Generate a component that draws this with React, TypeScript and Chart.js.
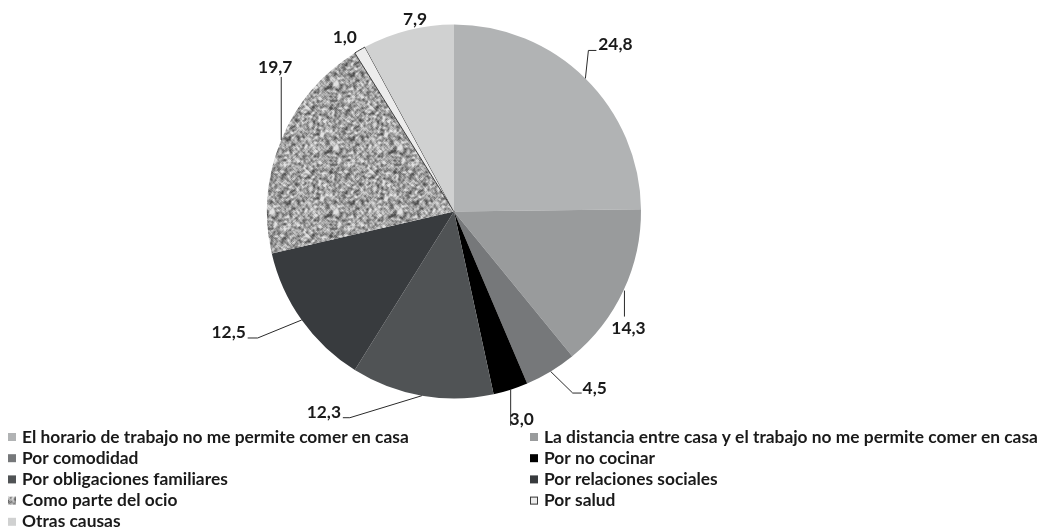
import { useEffect, useRef } from "react";
import { Chart, registerables } from "chart.js";

Chart.register(...registerables);

// ---- data ----
const categories: string[] = [
  "El horario de trabajo no me permite comer en casa",
  "La distancia entre casa y el trabajo no me permite comer en casa",
  "Por comodidad",
  "Por no cocinar",
  "Por obligaciones familiares",
  "Por relaciones sociales",
  "Como parte del ocio",
  "Por salud",
  "Otras causas",
];
const values: number[] = [24.8, 14.3, 4.5, 3.0, 12.3, 12.5, 19.7, 1.0, 7.9];

// ---- styles ----
const sliceColors: string[] = [
  "#b1b3b4",
  "#999b9c",
  "#76787a",
  "#000000",
  "#505355",
  "#383b3e",
  "TEXTURE",
  "#ececec",
  "#d0d1d1",
];
const sliceBorderWidths: number[] = [0, 0, 0, 0, 0, 0, 0, 1, 0];
const sliceBorderColor = "#3a3a3a";
const textColor = "#1a1a1a";
const fontFamily = "Lato, 'Noto Sans', sans-serif";

// label placement relative to each slice's outer mid-point (layout only)
const labelLayout: { text: [number, number]; leader: [number, number][] }[] = [
  { text: [30, -34], leader: [[0, 0], [3, -28], [11, -28]] },
  { text: [5, 38], leader: [[1, 0], [1, 26]] },
  { text: [44, 17], leader: [[0, 0], [22, 21.5], [31, 21.5]] },
  { text: [11, 30], leader: [[0, 0], [0, 36]] },
  { text: [-98, 17], leader: [[0, 0], [-72, 22], [-79, 22]] },
  { text: [-73, 12], leader: [[0, 0], [-44, 18], [-54, 18]] },
  { text: [-6, -72.5], leader: [[0, 0], [0, -63]] },
  { text: [-15, -12.5], leader: [] },
  { text: [7, -11], leader: [] },
];

const legendLayout = {
  colX: [8, 530],
  box: 8,
  gap: 6,
  firstY: 437,
  step: 21.2,
  refText: "El horario de trabajo no me permite comer en casa",
  refWidth: 387,
};

function makeTexture(): CanvasPattern | string {
  const N = 64;
  const c = document.createElement("canvas");
  c.width = N;
  c.height = N;
  const g = c.getContext("2d");
  if (!g) return "#a0a0a0";
  let s = 98765;
  const rnd = () => {
    s = (s * 1103515245 + 12345) & 0x7fffffff;
    return s / 0x7fffffff;
  };
  const raw: number[] = [];
  for (let i = 0; i < N * N; i++) raw.push(rnd());
  const img = g.createImageData(N, N);
  for (let y = 0; y < N; y++) {
    for (let x = 0; x < N; x++) {
      let sum = 0;
      for (let dy = -1; dy <= 1; dy++)
        for (let dx = -1; dx <= 1; dx++)
          sum += raw[((y + dy + N) % N) * N + ((x + dx + N) % N)];
      const blur = sum / 9;
      const own = raw[y * N + x];
      const t = 0.15 * own + 0.85 * blur;
      const v = Math.max(80, Math.min(225, 162 + (t - 0.5) * 300));
      const k = (y * N + x) * 4;
      img.data[k] = v;
      img.data[k + 1] = v;
      img.data[k + 2] = v;
      img.data[k + 3] = 255;
    }
  }
  g.putImageData(img, 0, 0);
  const p = g.createPattern(c, "repeat");
  return p || "#a0a0a0";
}

const fmt = (v: number) => v.toFixed(1).replace(".", ",");

export default function App() {
  const ref = useRef<HTMLCanvasElement | null>(null);

  useEffect(() => {
    if (!ref.current) return;
    const texture = makeTexture();
    const fills = sliceColors.map((c) => (c === "TEXTURE" ? texture : c));

    let fontSize = 15;
    const fitFont = (ctx: CanvasRenderingContext2D) => {
      ctx.font = `bold 100px ${fontFamily}`;
      const w = ctx.measureText(legendLayout.refText).width;
      fontSize = (100 * legendLayout.refWidth) / w;
    };

    const overlay = {
      id: "overlay",
      afterDraw(chart: any) {
        const ctx: CanvasRenderingContext2D = chart.ctx;
        fitFont(ctx);
        const meta = chart.getDatasetMeta(0);
        ctx.save();
        ctx.font = `bold ${fontSize}px ${fontFamily}`;
        ctx.fillStyle = textColor;
        ctx.textBaseline = "middle";
        ctx.textAlign = "center";
        ctx.strokeStyle = "#2a2a2a";
        ctx.lineWidth = 1;
        meta.data.forEach((arc: any, i: number) => {
          const p = arc.getProps(["x", "y", "startAngle", "endAngle", "outerRadius"], true);
          const mid = (p.startAngle + p.endAngle) / 2;
          const ax = p.x + Math.cos(mid) * p.outerRadius;
          const ay = p.y + Math.sin(mid) * p.outerRadius;
          const lay = labelLayout[i];
          if (lay.leader.length > 1) {
            ctx.beginPath();
            lay.leader.forEach(([dx, dy], k) => {
              if (k === 0) ctx.moveTo(ax + dx, ay + dy);
              else ctx.lineTo(ax + dx, ay + dy);
            });
            ctx.stroke();
          }
          ctx.fillText(fmt(values[i]), ax + lay.text[0], ay + lay.text[1]);
        });

        // legend
        ctx.textAlign = "left";
        categories.forEach((name, i) => {
          const col = i % 2;
          const row = Math.floor(i / 2);
          const x = legendLayout.colX[col];
          const cy = legendLayout.firstY + row * legendLayout.step;
          const b = legendLayout.box;
          ctx.fillStyle = fills[i] as any;
          ctx.fillRect(x, cy - b / 2, b, b);
          if (sliceBorderWidths[i] > 0) {
            ctx.strokeStyle = sliceBorderColor;
            ctx.strokeRect(x + 0.5, cy - b / 2 + 0.5, b - 1, b - 1);
          }
          ctx.fillStyle = textColor;
          ctx.fillText(name, x + b + legendLayout.gap, cy);
        });
        ctx.restore();
      },
    };

    const chart = new Chart(ref.current, {
      type: "pie",
      data: {
        labels: categories,
        datasets: [
          {
            data: values,
            backgroundColor: fills as any,
            borderWidth: sliceBorderWidths,
            borderColor: sliceBorderColor,
          },
        ],
      },
      options: {
        animation: false,
        responsive: true,
        maintainAspectRatio: false,
        layout: { padding: { top: 24, bottom: 132, left: 0, right: 134 } },
        plugins: {
          legend: { display: false },
          tooltip: { enabled: false },
        },
      },
      plugins: [overlay],
    });
    return () => chart.destroy();
  }, []);

  return (
    <div style={{ position: "fixed", left: 0, top: 0, width: 1042, height: 531, background: "#fff" }}>
      <canvas ref={ref} />
    </div>
  );
}
